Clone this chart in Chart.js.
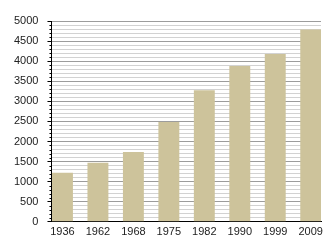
<!DOCTYPE html>
<html>
<head>
<meta charset="utf-8">
<script src="https://cdn.jsdelivr.net/npm/chart.js@4"></script>
<style>
  html, body { margin: 0; padding: 0; background: #fff; }
  #wrap { width: 330px; height: 250px; }
</style>
</head>
<body>
<div id="wrap"><canvas id="chart"></canvas></div>
<script>
// data
const years = ['1936', '1962', '1968', '1975', '1982', '1990', '1999', '2009'];
const values = [1220, 1470, 1740, 2485, 3275, 3880, 4180, 4790];
const yMax = 5000;

Chart.defaults.font.family = '"Liberation Sans", Arial, sans-serif';
Chart.defaults.font.size = 11;
Chart.defaults.color = '#222';

// short tick marks for the 100 steps between the labelled ones
const minorTicks = {
    id: 'minorTicks',
    afterDraw(chart) {
        const y = chart.scales.y;
        const ctx = chart.ctx;
        ctx.save();
        ctx.strokeStyle = '#000';
        ctx.lineWidth = 1;
        for (let v = 0; v <= yMax; v += 100) {
            if (v % 500 === 0) continue;
            const py = Math.round(y.getPixelForValue(v)) + 0.5;
            ctx.beginPath();
            ctx.moveTo(y.right - 2, py);
            ctx.lineTo(y.right, py);
            ctx.stroke();
        }
        ctx.restore();
    }
};

new Chart(document.getElementById('chart'), {
    type: 'bar',
    data: {
        datasets: [{
            data: values.map((v, i) => ({ x: i, y: v })),
            backgroundColor: 'rgb(205, 195, 155)',
            borderWidth: 0,
            barPercentage: 0.59,
            categoryPercentage: 1
        }]
    },
    options: {
        responsive: true,
        maintainAspectRatio: false,
        animation: false,
        layout: { padding: { top: 21, right: 9, bottom: 7, left: 5 } },
        plugins: { legend: { display: false }, tooltip: { enabled: false } },
        scales: {
            x: {
                type: 'linear',
                offset: false,
                min: -0.31,
                max: 7.29,
                afterBuildTicks: scale => {
                    scale.ticks = years.map((_, i) => ({ value: i }));
                },
                grid: { display: false, drawTicks: false },
                border: { display: true, color: '#000', width: 1 },
                ticks: {
                    padding: 4,
                    maxRotation: 0,
                    autoSkip: false,
                    callback: v => years[v]
                }
            },
            y: {
                min: 0,
                max: yMax,
                grid: {
                    color: c => (c.tick.value % 500 === 0 ? '#9c9c9c' : '#d2d2d2'),
                    tickColor: c => (c.tick.value % 500 === 0 ? '#000' : 'rgba(0,0,0,0)'),
                    tickLength: 4
                },
                border: { display: true, color: '#000', width: 1 },
                ticks: {
                    stepSize: 100,
                    autoSkip: false,
                    padding: 9,
                    callback: v => (v % 500 === 0 ? v : '')
                }
            }
        }
    },
    plugins: [minorTicks]
});
</script>
</body>
</html>
